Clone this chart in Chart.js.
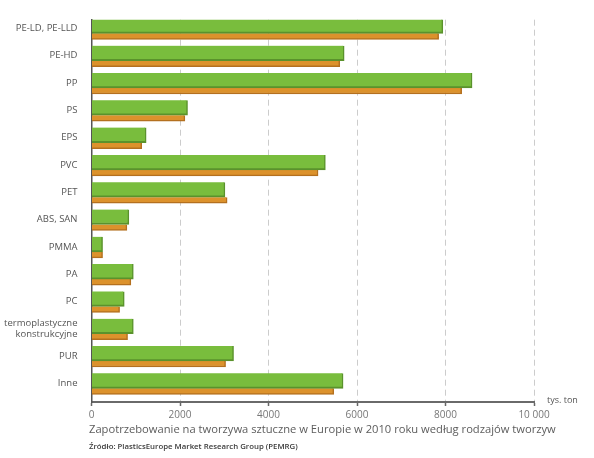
<!DOCTYPE html>
<html>
<head>
<meta charset="utf-8">
<script src="https://cdn.jsdelivr.net/npm/chart.js@4"></script>
<style>
  html, body { margin: 0; padding: 0; background: #fff; }
  #wrap { position: relative; width: 594px; height: 458px; overflow: hidden; }
  #wrap canvas { position: absolute; left: 0; top: 0; }
  .txt { position: absolute; white-space: nowrap; font-family: "Open Sans", sans-serif; }
  #unit { left: 547px; top: 393px; font-size: 9px; color: #555; }
  #caption { left: 89px; top: 421px; font-size: 11.2px; color: #5c5c5c; }
  #source { left: 89px; top: 441px; font-size: 7.8px; font-weight: 600; color: #3a3a3a; }
</style>
</head>
<body>
<div id="wrap">
  <canvas id="c" width="594" height="458"></canvas>
  <div class="txt" id="unit">tys. ton</div>
  <div class="txt" id="caption">Zapotrzebowanie na tworzywa sztuczne w Europie w 2010 roku według rodzajów tworzyw</div>
  <div class="txt" id="source">Źródło: PlasticsEurope Market Research Group (PEMRG)</div>
</div>
<script>
const categories = [
  'PE-LD, PE-LLD', 'PE-HD', 'PP', 'PS', 'EPS', 'PVC', 'PET',
  'ABS, SAN', 'PMMA', 'PA', 'PC', ['termoplastyczne', 'konstrukcyjne'], 'PUR', 'Inne'
];
const series2010 = [7940, 5710, 8600, 2170, 1235, 5285, 3015, 845, 250, 945, 740, 945, 3210, 5685];
const series2009 = [7845, 5610, 8365, 2110, 1135, 5120, 3065, 800, 250, 890, 635, 815, 3030, 5475];
const xTickLabels = ['0', '2000', '4000', '6000', '8000', '10 000'];
const xTickValues = [0, 2000, 4000, 6000, 8000, 10000];

new Chart(document.getElementById('c'), {
  type: 'bar',
  data: {
    labels: categories,
    datasets: [
      {
        label: '2010',
        data: series2010,
        backgroundColor: '#79bd3d',
        borderColor: '#5a922c',
        borderWidth: { top: 0, right: 1.5, bottom: 2, left: 0 },
        borderSkipped: false,
        barThickness: 15
      },
      {
        label: '2009',
        data: series2009,
        backgroundColor: '#dc922c',
        borderColor: '#b4701f',
        borderWidth: { top: 0, right: 1.5, bottom: 1.5, left: 0 },
        borderSkipped: false,
        barThickness: 6
      }
    ]
  },
  options: {
    indexAxis: 'y',
    responsive: false,
    animation: false,
    layout: { padding: { top: 19, right: 60, bottom: 0, left: 0 } },
    plugins: {
      legend: { display: false },
      tooltip: { enabled: false }
    },
    scales: {
      x: {
        min: 0,
        max: 10000,
        afterBuildTicks(scale) {
          scale.ticks = xTickValues.map(v => ({ value: v }));
        },
        afterFit(scale) { scale.height = 56; },
        ticks: {
          padding: 3,
          color: '#777',
          font: { family: 'Open Sans', size: 10 },
          callback: (v, i) => xTickLabels[i]
        },
        grid: {
          color: '#cccccc',
          lineWidth: 1,
          drawTicks: true,
          tickLength: 4,
          tickColor: '#666',
          tickWidth: 1.5
        },
        border: { display: true, color: '#6a6a6a', width: 2, dash: [6, 4] }
      },
      y: {
        afterFit(scale) { scale.width = 91.5; },
        grid: { display: false, drawTicks: false },
        border: { display: true, color: '#555', width: 1.5 },
        ticks: {
          padding: 14,
          labelOffset: -5,
          color: '#555',
          font: { family: 'Open Sans', size: 9.5 },
          autoSkip: false
        }
      }
    }
  }
});
</script>
</body>
</html>
